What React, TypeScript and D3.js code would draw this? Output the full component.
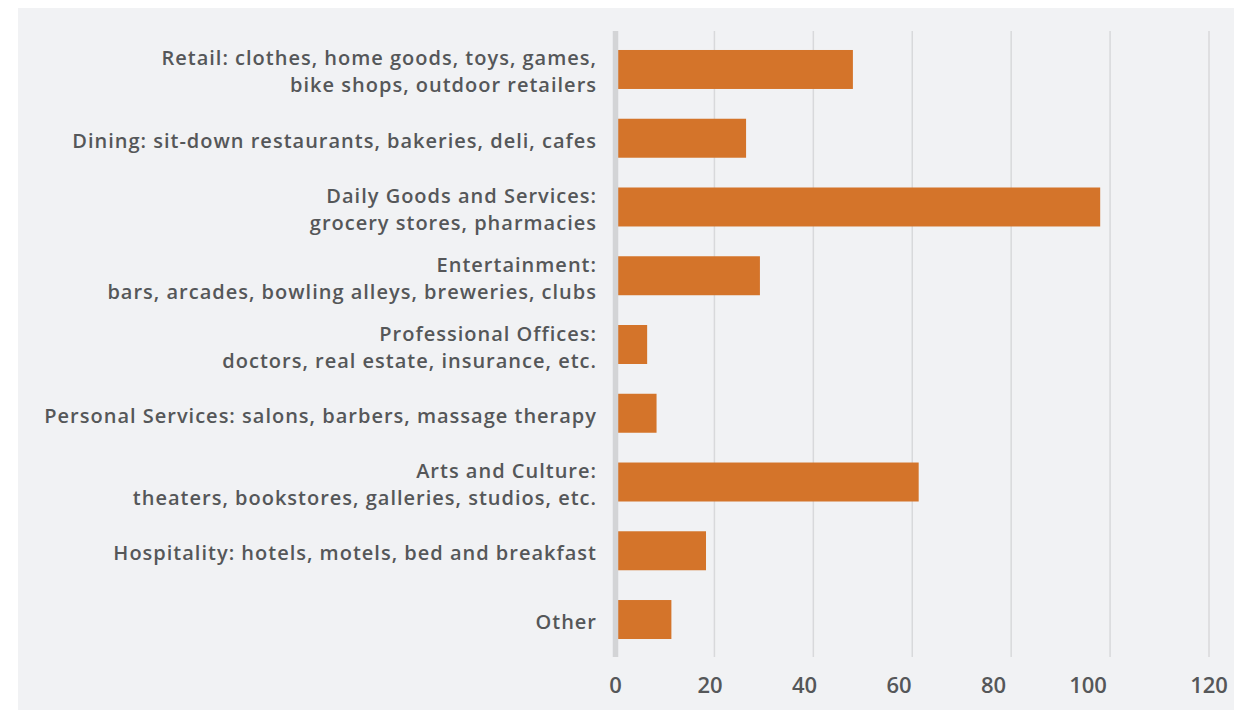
import React, { useEffect, useRef } from 'react';
import * as d3 from 'd3';

const categories: string[][] = [
  ['Retail: clothes, home goods, toys, games,', 'bike shops, outdoor retailers'],
  ['Dining: sit-down restaurants, bakeries, deli, cafes'],
  ['Daily Goods and Services:', 'grocery stores, pharmacies'],
  ['Entertainment:', 'bars, arcades, bowling alleys, breweries, clubs'],
  ['Professional Offices:', 'doctors, real estate, insurance, etc.'],
  ['Personal Services: salons, barbers, massage therapy'],
  ['Arts and Culture:', 'theaters, bookstores, galleries, studios, etc.'],
  ['Hospitality: hotels, motels, bed and breakfast'],
  ['Other'],
];
const counts = [48, 26.4, 98, 29.2, 6.4, 8.3, 61.3, 18.3, 11.3];
const ticks = [0, 20, 40, 60, 80, 100, 120];

const W = 1234;
const H = 702;

const App: React.FC = () => {
  const svgRef = useRef<SVGSVGElement>(null);

  useEffect(() => {
    if (!svgRef.current) return;
    const svg = d3.select(svgRef.current);
    svg.selectAll('*').remove();

    const font = '"Open Sans", sans-serif';
    const textColor = '#555759';

    svg.append('rect')
      .attr('x', 10).attr('y', 0)
      .attr('width', W - 10).attr('height', H)
      .attr('fill', '#f1f2f4');

    const x = d3.scaleLinear().domain([0, 120]).range([607.5, 1201]);
    // the source spaces its tick labels a little tighter than its gridlines (last one excepted)
    const xLabel = d3.scaleLinear().domain([0, 100]).range([x(0), x(100) - 22]);
    const idx = categories.map((_, i) => i);
    const y = d3.scaleBand<number>()
      .domain(idx)
      .range([27.1, 645.9])
      .paddingInner(0.433)
      .paddingOuter(0.2165);

    const gridTop = 23;
    const gridBottom = 649;

    // gridlines
    svg.append('g').selectAll('line')
      .data(ticks.slice(1))
      .enter()
      .append('line')
      .attr('x1', d => x(d)).attr('x2', d => x(d))
      .attr('y1', gridTop).attr('y2', gridBottom)
      .attr('stroke', '#d8d9db')
      .attr('stroke-width', 1.5);

    // bars
    svg.append('g').selectAll('rect')
      .data(counts)
      .enter()
      .append('rect')
      .attr('x', x(0))
      .attr('y', (_, i) => y(i)!)
      .attr('width', d => x(d) - x(0))
      .attr('height', y.bandwidth())
      .attr('fill', '#d4742a');

    // axis line
    svg.append('line')
      .attr('x1', x(0)).attr('x2', x(0))
      .attr('y1', gridTop).attr('y2', gridBottom)
      .attr('stroke', '#d3d4d6')
      .attr('stroke-width', 5.5);

    // tick labels
    svg.append('g').selectAll('text')
      .data(ticks)
      .enter()
      .append('text')
      .attr('x', d => (d === 120 ? x(d) : xLabel(d)))
      .attr('y', 685.3)
      .attr('text-anchor', 'middle')
      .style('font-family', font)
      .style('font-size', '22px')
      .style('font-weight', 600)
      .attr('fill', textColor)
      .text(d => d);

    // category labels
    const lineH = 27;
    const lab = svg.append('g').selectAll('text')
      .data(categories)
      .enter()
      .append('text')
      .attr('text-anchor', 'end')
      .style('font-family', font)
      .style('font-size', '20px')
      .style('font-weight', 600)
      .style('letter-spacing', '1px')
      .attr('fill', textColor);

    lab.each(function (lines, i) {
      const cy = y(i)! + y.bandwidth() / 2 + 2.5;
      const t = d3.select(this);
      lines.forEach((ln, j) => {
        t.append('tspan')
          .attr('x', 589)
          .attr('y', cy + (j - (lines.length - 1) / 2) * lineH)
          .attr('dy', '0.35em')
          .text(ln);
      });
    });
  }, []);

  return (
    <svg ref={svgRef} width={W} height={H} viewBox={`0 0 ${W} ${H}`} style={{ display: 'block' }}></svg>
  );
};

export default App;
